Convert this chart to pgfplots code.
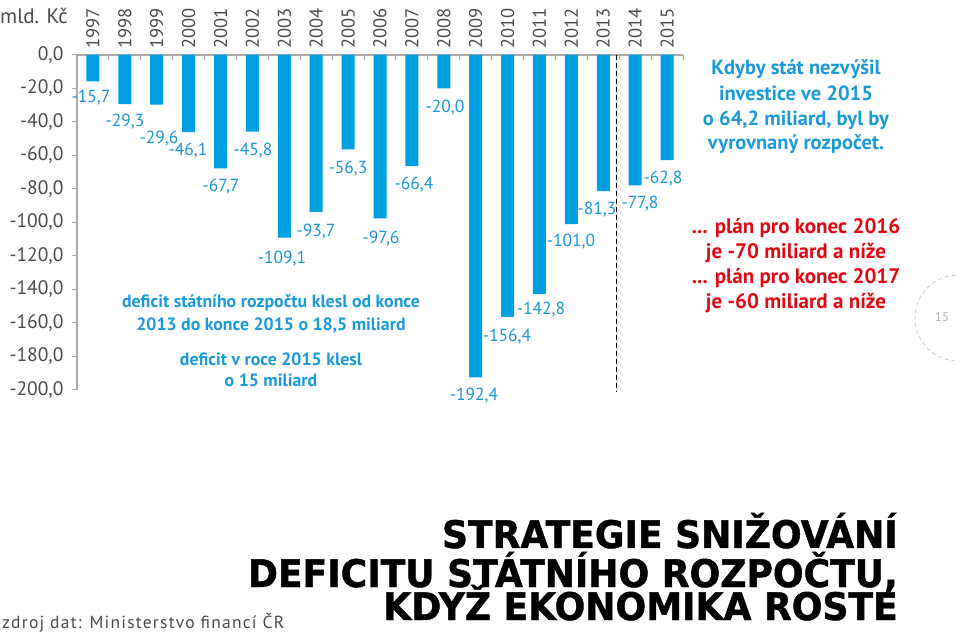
\documentclass[border=0pt]{standalone}
\usepackage{pgfplots}
\pgfplotsset{compat=1.18}
\usepackage{fontspec}
\setmainfont{PT Sans}
\newfontfamily\titlefont[FakeStretch=0.95, FakeBold=1.2]{DejaVu Sans}
\newfontfamily\srcfont[LetterSpace=7]{PT Sans}
\definecolor{barblue}{HTML}{009FE3}
\definecolor{lblblue}{HTML}{1A94D2}
\definecolor{annblue}{HTML}{1A9AD8}
\definecolor{planred}{HTML}{E30613}
\definecolor{axisgray}{HTML}{AAAAAA}
\definecolor{tickgray}{HTML}{4A4A4A}
\begin{document}
\begin{tikzpicture}[x=1pt,y=1pt]
\path[use as bounding box] (0,0) rectangle (959,635);
\begin{axis}[
  at={(77pt,245pt)}, anchor=south west, scale only axis,
  width=606pt, height=335pt,
  xmin=-0.5, xmax=18.5, ymin=-200, ymax=0,
  clip=false,
  axis x line*=top, axis y line*=left,
  axis line style={draw=axisgray, line width=1.3pt},
  tick align=inside,
  major tick length=5pt, minor tick length=5pt,
  xtick={0,...,18},
  xticklabels={1997,1998,1999,2000,2001,2002,2003,2004,2005,2006,2007,2008,2009,2010,2011,2012,2013,2014,2015},
  xticklabel shift=3pt,
  xticklabel style={rotate=90, anchor=west, font=\fontsize{18.5}{20}\selectfont, text=tickgray},
  x tick style={draw=none},
  minor xtick={-0.5,0.5,...,18.5},
  minor x tick style={draw=axisgray, line width=1pt},
  ytick={-200,-180,...,0},
  yticklabels={{-200,0},{-180,0},{-160,0},{-140,0},{-120,0},{-100,0},{-80,0},{-60,0},{-40,0},{-20,0},{0,0}},
  yticklabel shift=10pt,
  yticklabel style={font=\fontsize{19.5}{20}\selectfont, text=tickgray},
  y tick style={draw=axisgray, line width=1pt, xshift=-5pt},
]
\addplot[ybar, bar width=13pt, fill=barblue, draw=none] coordinates {
 (0,-15.7) (1,-29.3) (2,-29.6) (3,-46.1) (4,-67.7) (5,-45.8) (6,-109.1)
 (7,-93.7) (8,-56.3) (9,-97.6) (10,-66.4) (11,-20.0) (12,-192.4)
 (13,-156.4) (14,-142.8) (15,-101.0) (16,-81.3) (17,-77.8) (18,-62.8)};
\draw[black, line width=1pt, dash pattern=on 5pt off 3pt] (axis cs:16.42,0) -- (axis cs:16.42,-201);
\end{axis}
% bar value labels
\begin{scope}[every node/.style={font=\fontsize{17.5}{20}\selectfont, text=lblblue, inner sep=0pt}]
\node at (91,537) {-15,7};
\node at (125,513) {-29,3};
\node at (159,496) {-29,6};
\node at (188,484) {-46,1};
\node at (221,448) {-67,7};
\node at (253,484) {-45,8};
\node at (282,376) {-109,1};
\node at (316,403) {-93,7};
\node at (348,466) {-56,3};
\node at (381,396) {-97,6};
\node at (414,450) {-66,4};
\node at (445,527) {-20,0};
\node at (474,239) {-192,4};
\node at (507,298) {-156,4};
\node at (541,325) {-142,8};
\node at (571,393) {-101,0};
\node at (597,425) {-81,3};
\node at (640,431) {-77,8};
\node at (663,456) {-62,8};
\end{scope}
% annotations
\begin{scope}[every node/.style={font=\bfseries\fontsize{17.8}{20}\selectfont, text=annblue, inner sep=0pt, anchor=base}]
\node at (271,635-308) {deficit státního rozpočtu klesl od konce};
\node at (271,635-331) {2013 do konce 2015 o 18,5 miliard};
\node at (271,635-366) {deficit v roce 2015 klesl};
\node at (271,635-387) {o 15 miliard};
\end{scope}
\begin{scope}[every node/.style={font=\bfseries\fontsize{20.5}{22}\selectfont, text=annblue, inner sep=0pt, anchor=base}]
\node at (796,635-75) {Kdyby stát nezvýšil};
\node at (796,635-101) {investice ve 2015};
\node at (796,635-126) {o 64,2 miliard, byl by};
\node at (796,635-150) {vyrovnaný rozpočet.};
\end{scope}
\begin{scope}[every node/.style={font=\bfseries\fontsize{21}{22}\selectfont, text=planred, inner sep=0pt, anchor=base}]
\node at (796,635-234) {... plán pro konec 2016};
\node at (796,635-259) {je -70 miliard a níže};
\node at (796,635-284) {... plán pro konec 2017};
\node at (796,635-309) {je -60 miliard a níže};
\end{scope}
% unit
\node[anchor=base west, inner sep=0pt, font=\fontsize{21}{22}\selectfont, text=tickgray] at (0,635-24) {mld. Kč};
% source
\node[anchor=base west, inner sep=0pt, font=\srcfont\fontsize{17.5}{18}\selectfont, text=tickgray] at (2,635-628) {zdroj dat: Ministerstvo financí ČR};
% title
\begin{scope}[every node/.style={font=\titlefont\bfseries\fontsize{38}{40}\selectfont, text=black, inner sep=0pt, anchor=base east}]
\node at (898,635-548) {STRATEGIE SNIŽOVÁNÍ};
\node at (898,635-587) {DEFICITU STÁTNÍHO ROZPOČTU,};
\node at (898,635-620) {KDYŽ EKONOMIKA ROSTE};
\end{scope}
% page number
\draw[gray!40, line width=0.8pt, dash pattern=on 4pt off 3pt] (958,635-318) circle (43);
\node[font=\fontsize{13}{14}\selectfont, text=gray!60] at (942,635-317) {15};
\end{tikzpicture}
\end{document}
